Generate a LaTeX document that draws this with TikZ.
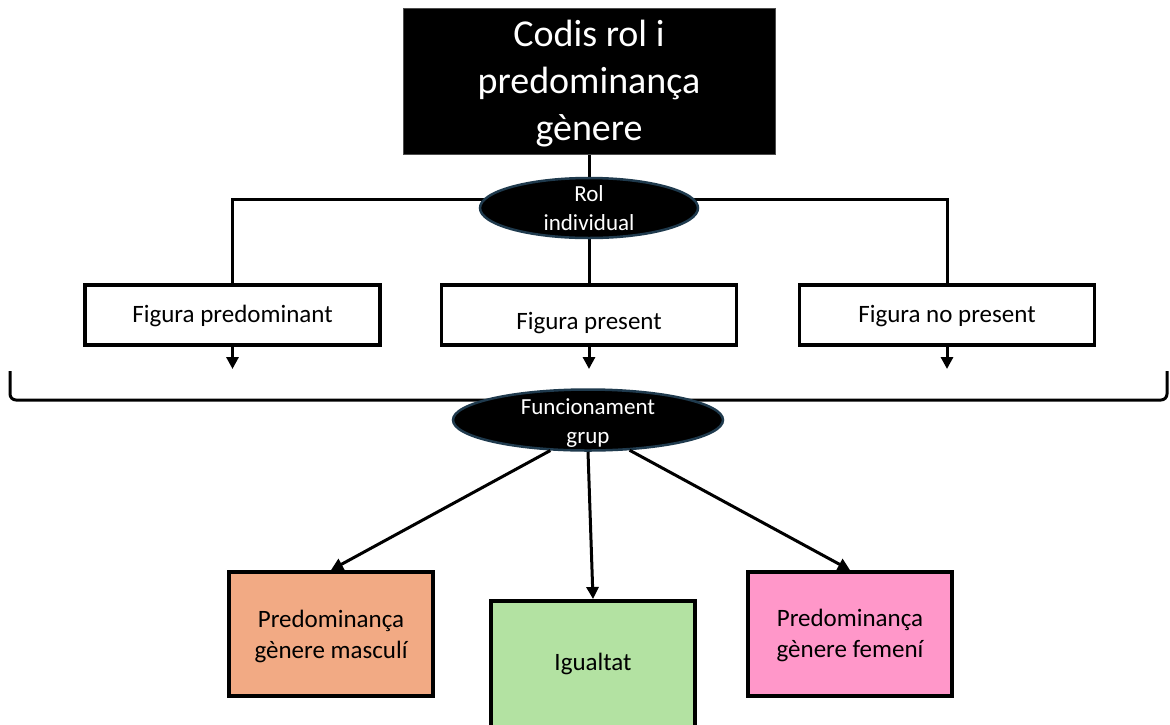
\documentclass[tikz,border=0pt]{standalone}
\usepackage{fontspec}
\setmainfont{Carlito}
\usetikzlibrary{shapes.geometric,arrows.meta}
\pgfdeclarelayer{background}
\pgfsetlayers{background,main}
\definecolor{masc}{HTML}{F2AA84}
\definecolor{igu}{HTML}{B3E2A2}
\definecolor{fem}{HTML}{FF97C9}
\definecolor{ovalb}{HTML}{1F3A4D}
% #1: how far the node centre lies below the first baseline (pt); #2: lines
\newcommand\mlines[2]{\raisebox{#1}[0pt][0pt]{\begin{tabular}[t]{@{}c@{}}#2\end{tabular}}}
\begin{document}
\begin{tikzpicture}[x=1pt,y=-1pt,
  conn/.style={line width=3pt},
  arr/.style={line width=3pt,-{Triangle[length=12pt,width=12pt]}},
  topbox/.style={rectangle,fill=black,draw=black!70,line width=1pt,text=white,minimum width=372pt,minimum height=146pt,font=\fontsize{38}{47}\selectfont,inner sep=0pt},
  oval/.style={ellipse,fill=black,draw=ovalb,line width=2.5pt,text=white,font=\fontsize{23}{28.8}\selectfont,inner sep=0pt},
  figbox/.style={rectangle,draw=black,line width=3.5pt,fill=white,minimum width=295pt,minimum height=60pt,font=\fontsize{25}{30}\selectfont,inner sep=0pt},
  outbox/.style={rectangle,draw=black,line width=4pt,minimum width=204pt,minimum height=124pt,font=\fontsize{25}{31}\selectfont,inner sep=0pt}
]
\useasboundingbox (0,0) rectangle (1170,724);
\begin{pgfonlayer}{background}
  \fill[white] (0,0) rectangle (1170,724);
\end{pgfonlayer}
% bracket
\draw[conn,rounded corners=6pt] (10,371) -- (10,400) -- (1167,400) -- (1167,371);

\node[topbox] (top) at (589,81) {\mlines{34.3pt}{Codis rol i\\predominança\\gènere}};
\node[oval,minimum width=218pt,minimum height=60pt] (rol) at (589,208) {\mlines{6.3pt}{Rol\\individual}};

\node[figbox] (f1) at (232.5,315) {\mlines{-7pt}{Figura predominant}};
\node[figbox] (f2) at (589,315) {\mlines{-14pt}{Figura present}};
\node[figbox] (f3) at (947,315) {\mlines{-7pt}{Figura no present}};

\node[oval,minimum width=270pt,minimum height=61pt] (fg) at (588,420) {\mlines{5.7pt}{Funcionament\\grup}};

\node[outbox,fill=masc] (m) at (331,634) {\mlines{6.7pt}{Predominança\\gènere masculí}};
\node[outbox,fill=igu,minimum height=126pt] (ig) at (593,664) {\mlines{-6.7pt}{Igualtat}};
\node[outbox,fill=fem] (fe) at (850,634) {\mlines{8pt}{Predominança\\gènere femení}};

\coordinate (h) at (589,199);
\coordinate (tip) at (0,369);

\begin{pgfonlayer}{background}
  \draw[conn] (top.south) -- (rol.north);
  \draw[conn] (f1.north) |- (h) -| (f3.north);
  \draw[conn] (rol.south) -- (f2.north);
\end{pgfonlayer}

\draw[arr] (f1.south) -- (f1.south |- tip);
\draw[arr] (f2.south) -- (f2.south |- tip);
\draw[arr] (f3.south) -- (f3.south |- tip);

\draw[arr] (fg.219) -- (m.north);
\draw[arr] (fg.south) -- (ig.north);
\draw[arr] (fg.324) -- (fe.north);
\end{tikzpicture}
\end{document}
